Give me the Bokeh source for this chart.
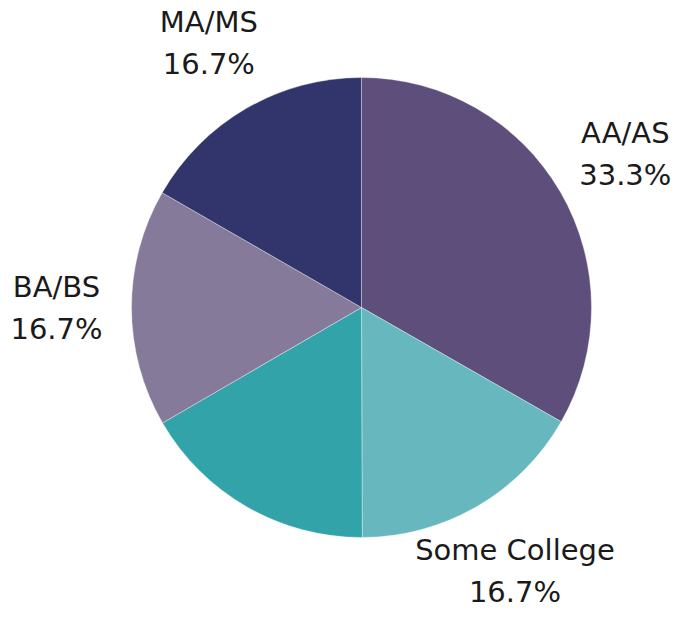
import math
from bokeh.plotting import figure
from bokeh.models import ColumnDataSource
from bokeh.core.properties import value
from bokeh.embed import file_html
from bokeh.resources import INLINE

# ---- data ----
categories = ["AA/AS", "Some College", "Other", "BA/BS", "MA/MS"]
shown_labels = ["AA/AS", "Some College", "", "BA/BS", "MA/MS"]
shares = [33.3, 16.7, 16.7, 16.7, 16.7]
colors = ["#5e4e7b", "#66b8be", "#32a3a8", "#857a9a", "#31356c"]

W, H = 685, 622
cx_px, cy_px = 361, 307
R = 230
LABEL_R = 305

p = figure(width=W, height=H, output_backend="svg", toolbar_location=None,
           x_range=(-cx_px, W - cx_px), y_range=(-(H - cy_px), cy_px),
           min_border=0, outline_line_color=None)
p.axis.visible = False
p.grid.visible = False
p.background_fill_color = "white"

total = sum(shares)
a0 = math.pi / 2
starts, ends, mids = [], [], []
cum = 0.0
for s in shares:
    a_begin = a0 - 2 * math.pi * cum / total
    cum += s
    a_end = a0 - 2 * math.pi * cum / total
    starts.append(a_end)
    ends.append(a_begin)
    mids.append((a_begin + a_end) / 2)

src = ColumnDataSource(dict(cat=categories, start=starts, end=ends, color=colors))
p.wedge(x=0, y=0, radius=R, start_angle="start", end_angle="end",
        direction="anticlock", fill_color="color", line_color="white",
        line_width=0.6, line_alpha=0.6, source=src)

lx, ly, names, pcts = [], [], [], []
for lab, s, m in zip(shown_labels, shares, mids):
    if not lab:
        continue
    lx.append(LABEL_R * math.cos(m))
    ly.append(LABEL_R * math.sin(m))
    names.append(lab)
    pcts.append(f"{s:.1f}%")

lsrc = ColumnDataSource(dict(x=lx, y=ly, name=names, pct=pcts))
common = dict(text_font=value("DejaVu Sans"), text_font_size="29px",
              text_color="#1a1a1a", text_align="center", text_baseline="middle",
              source=lsrc)
p.text(x="x", y="y", text="name", y_offset=-21, **common)
p.text(x="x", y="y", text="pct", y_offset=21, **common)

open("out.html", "w").write(file_html(p, INLINE))
